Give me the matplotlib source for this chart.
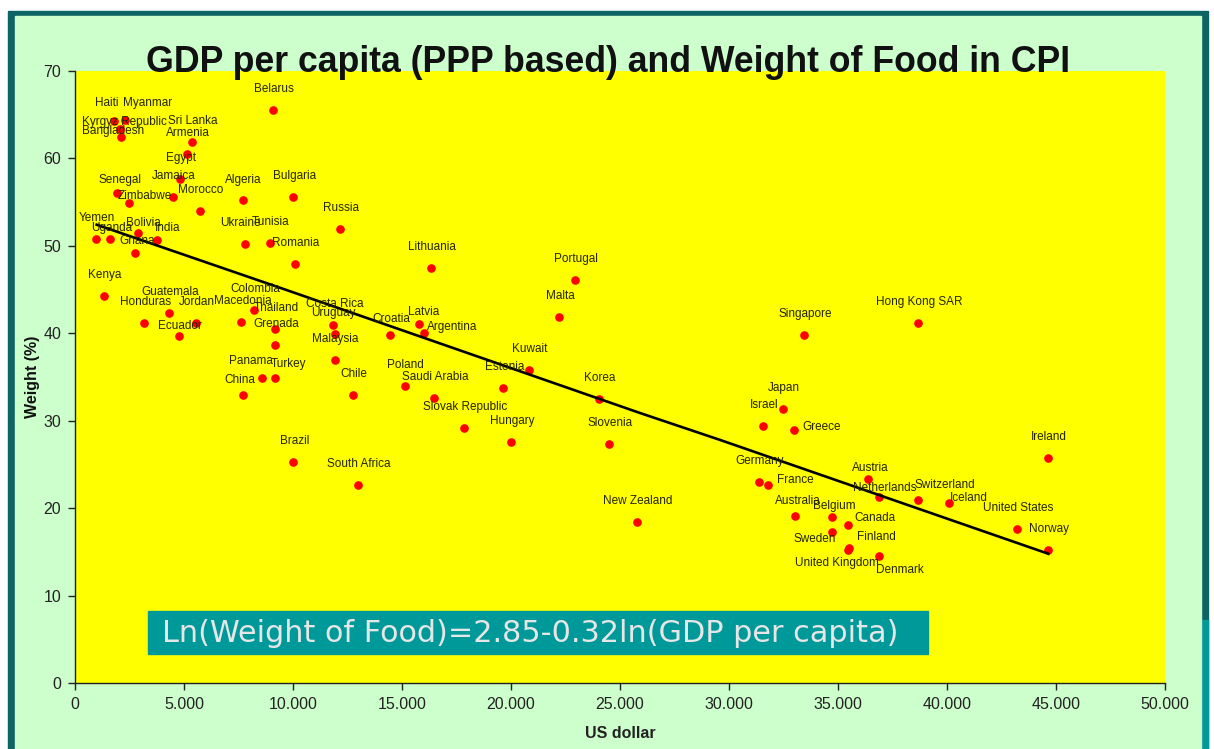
import matplotlib as mpl
mpl.use('Agg')
import numpy as np
import matplotlib.pyplot as plt
from matplotlib.patches import Rectangle
from matplotlib.ticker import FuncFormatter

# data: GDP per capita (US dollar, PPP) and food weight in CPI (%)
countries = ['Belarus', 'Haiti', 'Myanmar', 'Kyrgyz Republic', 'Bangladesh', 'Sri Lanka',
             'Armenia', 'Egypt', 'Jamaica', 'Morocco', 'Senegal', 'Zimbabwe', 'Algeria',
             'Bulgaria', 'Russia', 'Yemen', 'Uganda', 'Bolivia', 'India', 'Ghana', 'Ukraine',
             'Tunisia', 'Romania', 'Kenya', 'Guatemala', 'Honduras', 'Jordan', 'Ecuador',
             'Macedonia', 'Colombia', 'Thailand', 'Grenada', 'Panama', 'Turkey', 'China',
             'Costa Rica', 'Uruguay', 'Malaysia', 'Chile', 'Croatia', 'Brazil', 'South Africa',
             'Lithuania', 'Portugal', 'Malta', 'Latvia', 'Argentina', 'Kuwait', 'Estonia',
             'Poland', 'Saudi Arabia', 'Slovak Republic', 'Hungary', 'Korea', 'Slovenia',
             'Singapore', 'Hong Kong SAR', 'New Zealand', 'Japan', 'Israel', 'Greece',
             'Ireland', 'Germany', 'France', 'Austria', 'Netherlands', 'Switzerland',
             'Iceland', 'United States', 'Norway', 'Australia', 'Belgium', 'Canada',
             'Sweden', 'Finland', 'United Kingdom', 'Denmark']
gdp = [9100, 1790, 2290, 2060, 2110, 5370,
       5140, 4830, 4480, 5730, 1910, 2460, 7690,
       10010, 12160, 960, 1620, 2880, 3780, 2770, 7810,
       8930, 10080, 1320, 4300, 3180, 5550, 4770,
       7630, 8210, 9170, 9170, 8580, 9170, 7690,
       11850, 11910, 11910, 12740, 14470, 10010, 12980,
       16320, 22920, 22220, 15780, 16010, 20830, 19650,
       15120, 16480, 17860, 20000, 24040, 24510,
       33440, 38670, 25780, 32490, 31550, 32980,
       44630, 31360, 31790, 36360, 36890, 38680,
       40110, 43200, 44630, 33040, 34710, 35470,
       34710, 35520, 35440, 36890]
weight = [65.5, 64.3, 64.4, 63.3, 62.4, 61.9,
          60.5, 57.6, 55.6, 54.0, 56.0, 54.9, 55.2,
          55.6, 51.9, 50.8, 50.8, 51.4, 50.7, 49.2, 50.2,
          50.3, 47.9, 44.2, 42.3, 41.2, 41.2, 39.7,
          41.3, 42.7, 40.5, 38.7, 34.9, 34.9, 33.0,
          40.9, 39.9, 36.9, 32.9, 39.8, 25.3, 22.7,
          47.5, 46.1, 41.9, 41.0, 40.0, 35.8, 33.8,
          34.0, 32.6, 29.2, 27.6, 32.5, 27.3,
          39.8, 41.2, 18.4, 31.4, 29.4, 29.0,
          25.8, 23.0, 22.7, 23.3, 21.3, 21.0,
          20.6, 17.6, 15.2, 19.1, 19.0, 18.1,
          17.3, 15.5, 15.2, 14.6]

# trend line as drawn in the chart
trend_gdp = [995, 9400, 25900, 29600, 44650]
trend_weight = [52.4, 45.2, 30.9, 27.8, 14.8]

x_ticks = np.arange(0, 50001, 5000)
y_ticks = np.arange(0, 71, 10)

# label offsets (pixels, right / up); default is centred above the dot
label_offset = {
    'Haiti': (-7, 18), 'Myanmar': (23, 17), 'Kyrgyz Republic': (5, 7), 'Bangladesh': (-8, 6),
    'Senegal': (3, 13), 'Zimbabwe': (16, 7), 'Algeria': (1, 20), 'Uganda': (1, 11),
    'Bolivia': (6, 10), 'India': (10, 12), 'Ghana': (2, 12), 'Ukraine': (-5, 21),
    'Ecuador': (1, 10), 'Panama': (-11, 17), 'Turkey': (14, 14), 'China': (-3, 15),
    'Uruguay': (-1, 21), 'Croatia': (1, 16), 'Latvia': (5, 12), 'Argentina': (28, 6),
    'Greece': (28, 3), 'France': (27, 5), 'Austria': (3, 11), 'Netherlands': (6, 9),
    'Switzerland': (27, 15), 'Iceland': (19, 5), 'Australia': (3, 15), 'Belgium': (3, 11),
    'Canada': (27, 7), 'Sweden': (-17, -7), 'Finland': (27, 11), 'United Kingdom': (-11, -13),
    'Denmark': (21, -14),
}

W, H = 1214, 749
fig = plt.figure(figsize=(W / 100, H / 100), dpi=100, facecolor='white')

# slide frame drawn in pixel space
bg = fig.add_axes([0, 0, 1, 1], zorder=-5)
bg.set_xlim(0, W)
bg.set_ylim(H, 0)
bg.axis('off')
bg.add_patch(Rectangle((8, 11), 1200, 760, color='#0d6464'))
grad = np.linspace(0, 1, 200)[:, None]
bg.imshow(grad, cmap=mpl.colors.LinearSegmentedColormap.from_list('b', ['#0d6464', '#5e9c9c']),
          extent=(8, 15, H, 16), aspect='auto')
bg.add_patch(Rectangle((1201, 620), 7, 140, color='#009999'))
bg.add_patch(Rectangle((15, 16), 1186, 760, color='#ccffcc'))

ax = fig.add_axes([75 / W, 1 - 683.3 / H, 1090 / W, 612.6 / H])
ax.set_facecolor('#ffff00')
ax.plot(gdp, weight, 'o', color='#ff0000', ms=5.2, mec='#ff0000', zorder=3)
ax.plot(trend_gdp, trend_weight, color='black', lw=1.9, zorder=4)

for name, x, y in zip(countries, gdp, weight):
    dx, dy = label_offset.get(name, (1, 21))
    ax.annotate(name, (x, y), xytext=(dx, dy), textcoords='offset pixels',
                ha='center', va='center', fontsize=8.5, color='#262600',
                family='Liberation Sans', zorder=5)

ax.set_xlim(0, 50000)
ax.set_ylim(0, 70)
ax.set_xticks(x_ticks)
ax.set_yticks(y_ticks)
ax.xaxis.set_major_formatter(FuncFormatter(lambda v, p: f"{int(v):,}".replace(',', '.')))
for s in ['top', 'right']:
    ax.spines[s].set_visible(False)
for s in ['left', 'bottom']:
    ax.spines[s].set_color('#222222')
    ax.spines[s].set_linewidth(1.0)
ax.tick_params(direction='out', length=5, width=1, color='#222222', pad=5,
               labelsize=11.5, labelcolor='#222222')
for lab in ax.get_xticklabels() + ax.get_yticklabels():
    lab.set_family('Liberation Sans')

ax.set_xlabel('US dollar', fontsize=11.5, fontweight='bold', family='Liberation Sans',
              color='#222222', labelpad=10)
ax.set_ylabel('Weight (%)', fontsize=11.5, fontweight='bold', family='Liberation Sans',
              color='#111111', labelpad=2)

fig.text(608.5 / W, 1 - 71.7 / H, 'GDP per capita (PPP based) and Weight of Food in CPI',
         ha='center', va='baseline', fontsize=25.7, fontweight='bold',
         family='Liberation Sans', color='#111111', zorder=10)

# equation box
fig.add_artist(Rectangle((148 / W, 1 - 654 / H), 780 / W, 43 / H, transform=fig.transFigure,
                         color='#009999', zorder=8))
fig.text(162 / W, 1 - 633 / H, 'Ln(Weight of Food)=2.85-0.32ln(GDP per capita)',
         ha='left', va='center', fontsize=21.8, family='DejaVu Sans', color='#e6e6e6', zorder=9)

fig.savefig('out.png', dpi=100, facecolor='white')
